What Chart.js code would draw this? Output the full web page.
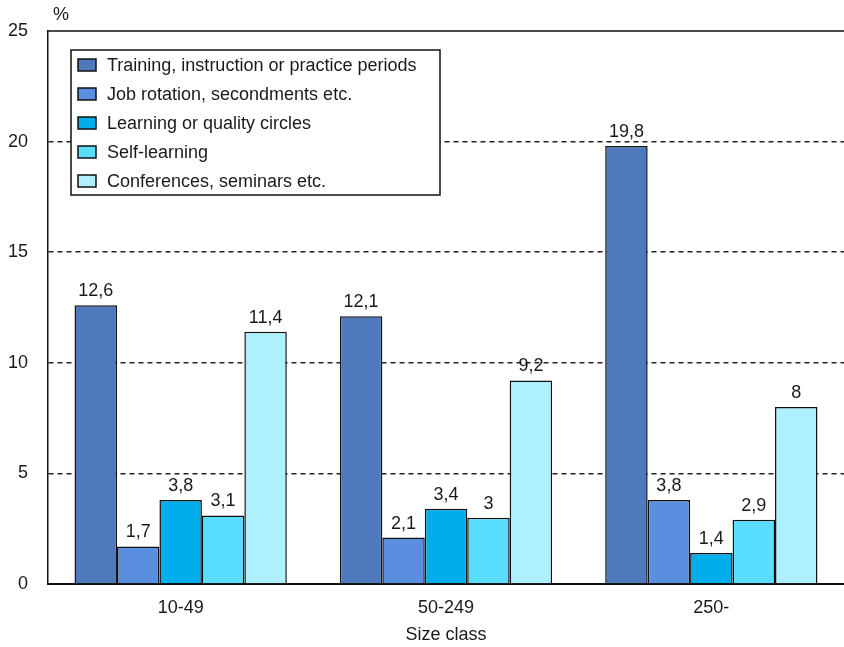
<!DOCTYPE html>
<html>
<head>
<meta charset="utf-8">
<script src="https://cdn.jsdelivr.net/npm/chart.js@4.4.1/dist/chart.umd.min.js"></script>
<style>
  html, body { margin: 0; padding: 0; background: #fff; }
  #wrap { width: 844px; height: 647px; position: relative; }
</style>
</head>
<body>
<div id="wrap"><canvas id="chart"></canvas></div>
<script>
const sizeClasses = ["10-49", "50-249", "250-"];

const training = [12.6, 12.1, 19.8];
const jobRotation = [1.7, 2.1, 3.8];
const qualityCircles = [3.8, 3.4, 1.4];
const selfLearning = [3.1, 3, 2.9];
const conferences = [11.4, 9.2, 8];

const seriesNames = [
  "Training, instruction or practice periods",
  "Job rotation, secondments etc.",
  "Learning or quality circles",
  "Self-learning",
  "Conferences, seminars etc."
];
const seriesColors = ["#4e79bd", "#5a8fe0", "#00aeec", "#5adeff", "#aef0fd"];

const yTicks = [0, 5, 10, 15, 20, 25];

const FONT = "Liberation Sans";
const FSIZE = 18;
const TEXT = "#1a1a1a";

const seriesValues = [training, jobRotation, qualityCircles, selfLearning, conferences];

const datasets = seriesValues.map((vals, i) => ({
  label: seriesNames[i],
  data: vals,
  backgroundColor: seriesColors[i],
  borderColor: "#111",
  borderWidth: 1.5,
  barPercentage: 1,
  categoryPercentage: 0.8
}));

// frame line along the top of the plot, plus the unit
const topBorder = {
  id: "topBorder",
  afterDraw(chart) {
    const { ctx, chartArea } = chart;
    ctx.save();
    ctx.strokeStyle = "#111";
    ctx.lineWidth = 1.5;
    ctx.beginPath();
    ctx.moveTo(chartArea.left, chartArea.top);
    ctx.lineTo(chartArea.right, chartArea.top);
    ctx.stroke();
    ctx.fillStyle = TEXT;
    ctx.font = FSIZE + "px " + FONT;
    ctx.textAlign = "left";
    ctx.textBaseline = "middle";
    ctx.fillText("%", chartArea.left + 5, 15);
    ctx.restore();
  }
};

// value above each bar, decimal comma
const valueLabels = {
  id: "valueLabels",
  afterDatasetsDraw(chart) {
    const { ctx } = chart;
    ctx.save();
    ctx.fillStyle = TEXT;
    ctx.font = FSIZE + "px " + FONT;
    ctx.textAlign = "center";
    ctx.textBaseline = "alphabetic";
    chart.data.datasets.forEach((ds, i) => {
      chart.getDatasetMeta(i).data.forEach((bar, j) => {
        const txt = String(ds.data[j]).replace(".", ",");
        ctx.fillText(txt, bar.x, bar.y - 9);
      });
    });
    ctx.restore();
  }
};

// boxed legend sitting inside the plot
const boxLegend = {
  id: "boxLegend",
  afterDraw(chart) {
    const { ctx } = chart;
    const x = 71, y = 50, w = 369, h = 145, rowH = 29;
    ctx.save();
    ctx.fillStyle = "#fff";
    ctx.fillRect(x, y, w, h);
    ctx.strokeStyle = "#111";
    ctx.lineWidth = 1.5;
    ctx.strokeRect(x, y, w, h);
    ctx.font = FSIZE + "px " + FONT;
    ctx.textBaseline = "middle";
    chart.data.datasets.forEach((ds, i) => {
      const cy = y + 15 + i * rowH;
      ctx.fillStyle = ds.backgroundColor;
      ctx.fillRect(x + 7, cy - 6, 18, 12);
      ctx.strokeStyle = "#111";
      ctx.lineWidth = 1.5;
      ctx.strokeRect(x + 7, cy - 6, 18, 12);
      ctx.fillStyle = TEXT;
      ctx.fillText(ds.label, x + 36, cy + 1);
    });
    ctx.restore();
  }
};

new Chart(document.getElementById("chart"), {
  type: "bar",
  data: { labels: sizeClasses, datasets: datasets },
  options: {
    responsive: true,
    maintainAspectRatio: false,
    animation: false,
    layout: { padding: { top: 31, right: 0, left: 0, bottom: 0 } },
    plugins: {
      legend: { display: false },
      tooltip: { enabled: false }
    },
    scales: {
      x: {
        grid: { display: false, drawTicks: false },
        border: { display: true, color: "#111", width: 2 },
        ticks: { color: TEXT, font: { family: FONT, size: FSIZE }, padding: 13 },
        title: {
          display: true,
          text: "Size class",
          color: TEXT,
          font: { family: FONT, size: FSIZE },
          padding: { top: 0, bottom: 1 }
        },
        afterFit(scale) { scale.height = 63; }
      },
      y: {
        min: 0,
        max: 25,
        afterBuildTicks(scale) { scale.ticks = yTicks.map(v => ({ value: v })); },
        grid: {
          drawTicks: false,
          lineWidth: 1.5,
          color: c => (c.tick && (c.tick.value === 0 || c.tick.value === 25)) ? "rgba(0,0,0,0)" : "#222"
        },
        border: { display: true, color: "#111", width: 1.5, dash: [5, 4] },
        ticks: { color: TEXT, font: { family: FONT, size: FSIZE }, padding: 20 },
        afterFit(scale) { scale.width = 48; }
      }
    }
  },
  plugins: [topBorder, valueLabels, boxLegend]
});
</script>
</body>
</html>
